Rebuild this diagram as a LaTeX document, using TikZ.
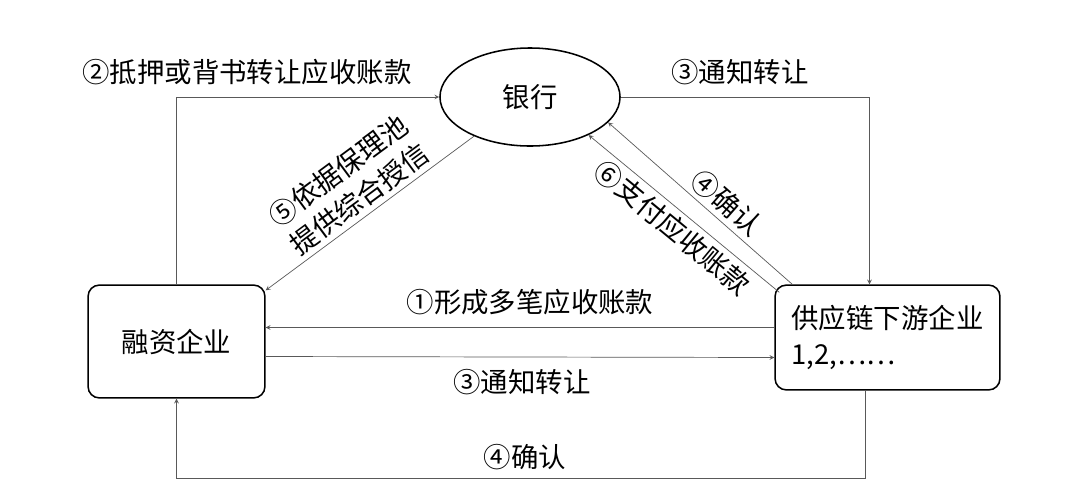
\documentclass[tikz,border=0pt]{standalone}
\usepackage{fontspec}
\setmainfont{Noto Sans CJK SC}
\usetikzlibrary{arrows,shapes,calc}
\begin{document}
\begin{tikzpicture}[x=0.025cm,y=-0.025cm,font=\fontsize{19.5}{25}\selectfont,
	party/.style={draw,line width=1.1pt,rounded corners=8pt,align=left,inner sep=6pt},
	flow/.style={-stealth,line width=0.5pt,draw=gray!70!black,text=black}]
		\useasboundingbox (0,0) rectangle (1080,502);
		
		\node[draw,ellipse,line width=1.1pt,minimum width=4.5cm,minimum height=2.45cm] (bank) at (530,97) {银行};
		\node[party,minimum width=4.42cm,minimum height=2.82cm] (fin) at (176.5,341.5) {融资企业};
		\node[party,minimum width=5.62cm,minimum height=2.62cm] (down) at (887.5,337.5) {供应链下游企业\\1,2,……};
		
		\draw[flow] (fin.north) |- (bank.west);
		\node (l2) at (247,72) {②抵押或背书转让应收账款};
		\draw[flow] (bank.east) -| ($(down.north)+(-18,0)$);
		\node (l3a) at (740,72) {③通知转让};
		\draw[flow] (bank.-145) -- ($(fin.north east)+(0,6)$) node[midway,sloped,above,align=center] {⑤依据保理池\\提供综合授信};
		\draw[flow] ($(down.north west)+(18,0)$) -- (bank.-18) node[pos=0.42,sloped,above] {④确认};
		\draw[flow] ($(down.north west)+(5,8)$) -- (bank.-33) node[pos=0.5,sloped,below] {⑥支付应收账款};
		\draw[flow] ($(down.west)+(0,-10)$) -- ($(fin.east)+(0,-14)$);
		\node (l1) at (530,302) {①形成多笔应收账款};
		\draw[flow] ($(fin.east)+(0,15)$) -- ($(down.west)+(0,20)$);
		\node (l3b) at (522,382) {③通知转让};
		\draw[flow] ($(down.south)+(-22,0)$) |- (176.5,478) -- (fin.south);
		\node (l4) at (525,457) {④确认};
		\end{tikzpicture}
\end{document}
